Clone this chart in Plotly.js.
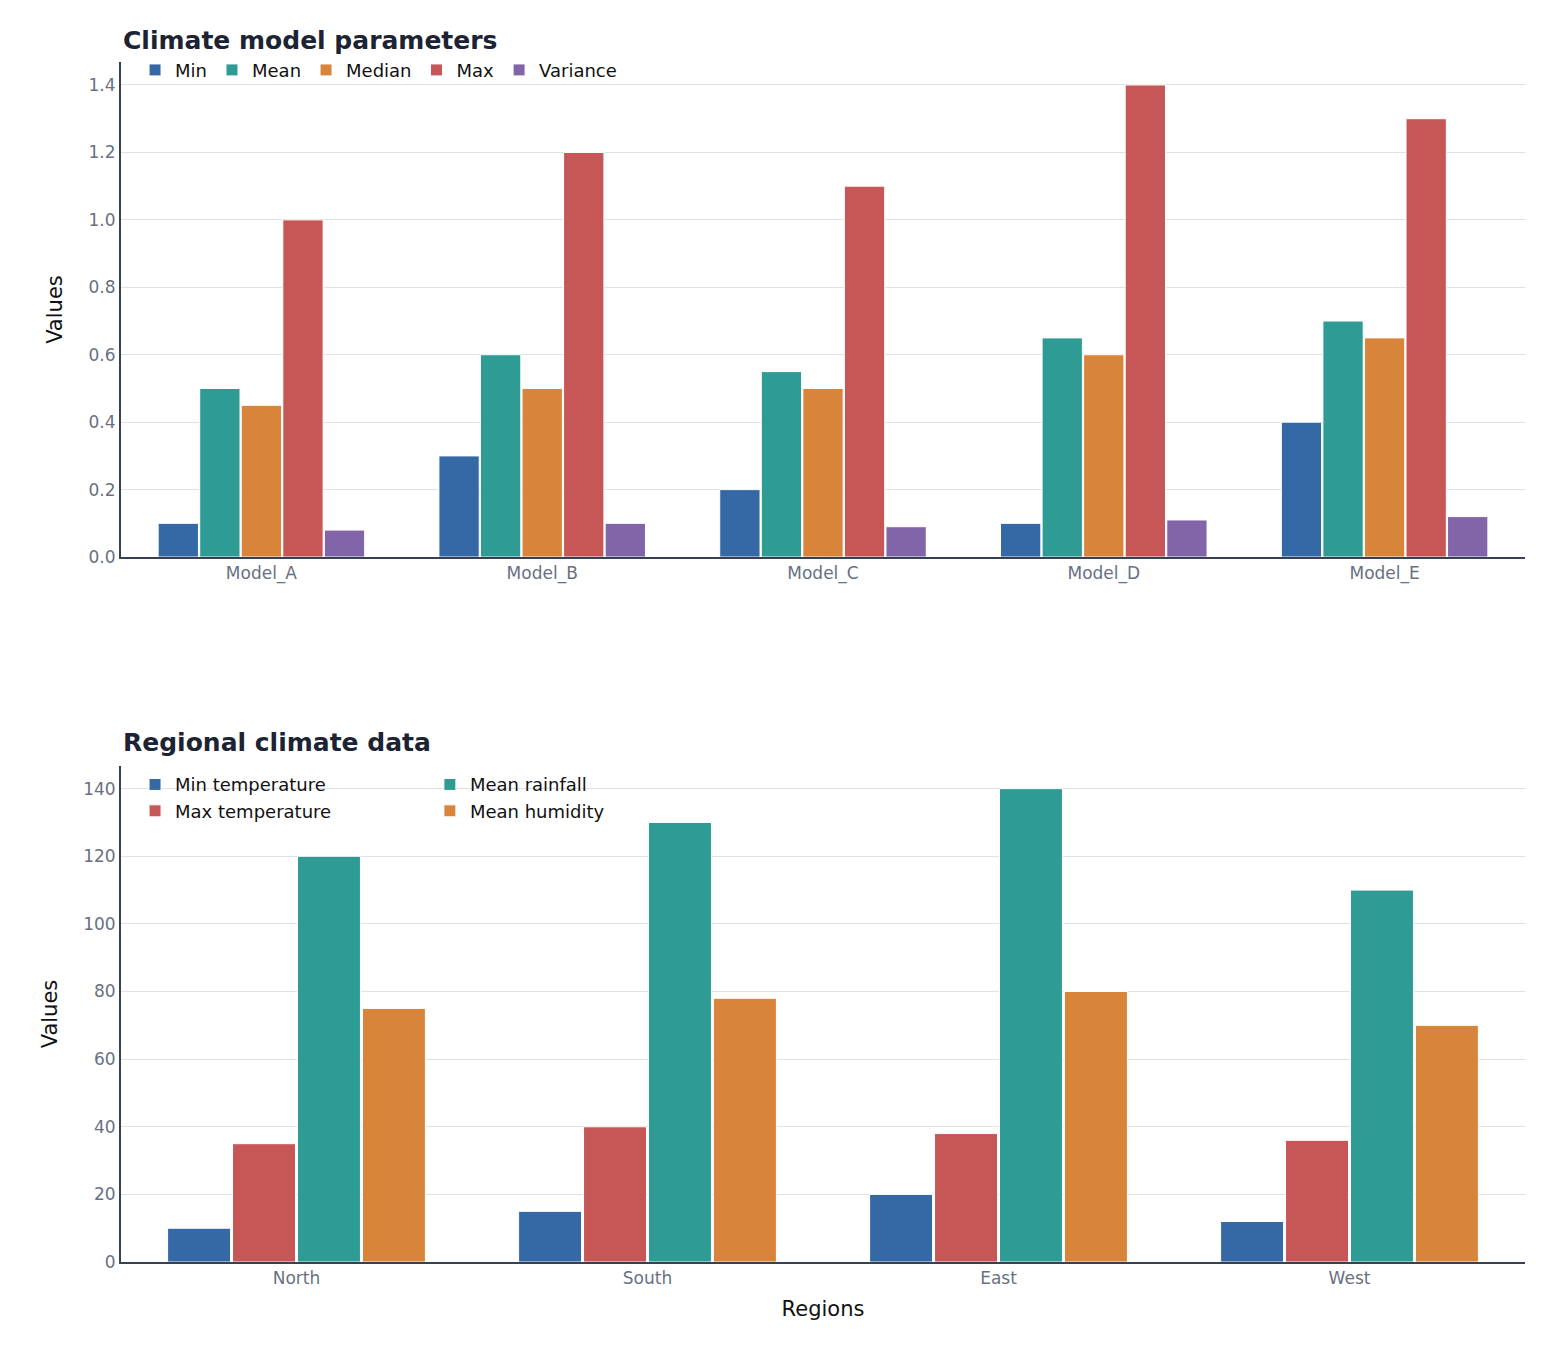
<!DOCTYPE html>
<html>
<head>
<script src="https://cdn.plot.ly/plotly-3.0.1.min.js"></script>
<style>body{margin:0}</style>
</head>
<body>
<div id="chart" style="width:1549px;height:1361px"></div>
<script>
// top chart
const models = ['Model_A', 'Model_B', 'Model_C', 'Model_D', 'Model_E'];
const minVals = [0.1, 0.3, 0.2, 0.1, 0.4];
const meanVals = [0.5, 0.6, 0.55, 0.65, 0.7];
const medianVals = [0.45, 0.5, 0.5, 0.6, 0.65];
const maxVals = [1.0, 1.2, 1.1, 1.4, 1.3];
const varianceVals = [0.08, 0.1, 0.09, 0.11, 0.12];

// bottom chart
const regions = ['North', 'South', 'East', 'West'];
const minTemp = [10, 15, 20, 12];
const maxTemp = [35, 40, 38, 36];
const meanRain = [120, 130, 140, 110];
const meanHumidity = [75, 78, 80, 70];

const BLUE = '#3569a5', TEAL = '#2e9c94', ORANGE = '#d8853b', RED = '#c75656', PURPLE = '#8265a8';

function bar(x, y, name, color, axis, legend) {
    return {
        type: 'bar', x: x, y: y, name: name,
        xaxis: 'x' + axis, yaxis: 'y' + axis, legend: legend,
        marker: {color: color, line: {color: 'white', width: 1}}
    };
}

const data = [
    bar(models, minVals, 'Min', BLUE, '', 'legend'),
    bar(models, meanVals, 'Mean', TEAL, '', 'legend'),
    bar(models, medianVals, 'Median', ORANGE, '', 'legend'),
    bar(models, maxVals, 'Max', RED, '', 'legend'),
    bar(models, varianceVals, 'Variance', PURPLE, '', 'legend'),
    bar(regions, minTemp, 'Min temperature', BLUE, '2', 'legend2'),
    bar(regions, maxTemp, 'Max temperature', RED, '2', 'legend2'),
    bar(regions, meanRain, 'Mean rainfall', TEAL, '2', 'legend3'),
    bar(regions, meanHumidity, 'Mean humidity', ORANGE, '2', 'legend3')
];

const tickFont = {size: 17, color: '#687082'};
function xax(domainY) {
    return {showline: true, linecolor: '#374151', linewidth: 2, tickfont: tickFont, ticks: '', showgrid: false};
}
function yax(range, dom, dtick) {
    return {
        domain: dom, range: range, dtick: dtick, showline: true, linecolor: '#374151', linewidth: 2,
        gridcolor: '#e0e0e6', tickfont: tickFont, zeroline: false, ticks: '',
        title: {text: 'Values', font: {size: 21, color: '#111'}, standoff: 20}
    };
}

const legFont = {size: 18, color: '#111'};
const layout = {
    font: {family: 'DejaVu Sans'},
    paper_bgcolor: 'white', plot_bgcolor: 'white',
    margin: {l: 121, r: 24, t: 0, b: 0},
    barmode: 'group', bargap: 0.26, bargroupgap: 0.03,
    xaxis: Object.assign(xax(), {anchor: 'y'}),
    yaxis: Object.assign(yax([0, 1.468], [0.5907, 0.9544], 0.2), {anchor: 'x', tickformat: '.1f'}),
    xaxis2: Object.assign(xax(), {anchor: 'y2', title: {text: 'Regions', font: {size: 21, color: '#111'}, standoff: 14}}),
    yaxis2: Object.assign(yax([0, 146.7], [0.0727, 0.4372], 20), {anchor: 'x2'}),
    legend: {orientation: 'h', x: 0.01, y: 0.962, yanchor: 'top', xanchor: 'left', font: legFont, bgcolor: 'rgba(0,0,0,0)'},
    legend2: {x: 0.01, y: 0.437, yanchor: 'top', xanchor: 'left', font: legFont, bgcolor: 'rgba(0,0,0,0)', tracegroupgap: 0},
    legend3: {x: 0.22, y: 0.437, yanchor: 'top', xanchor: 'left', font: legFont, bgcolor: 'rgba(0,0,0,0)', tracegroupgap: 0},
    annotations: [
        {text: '<b>Climate model parameters</b>', xref: 'paper', yref: 'paper', x: 0, y: 0.9578, xanchor: 'left', yanchor: 'bottom', showarrow: false, font: {size: 25, color: '#1c2333'}},
        {text: '<b>Regional climate data</b>', xref: 'paper', yref: 'paper', x: 0, y: 0.4422, xanchor: 'left', yanchor: 'bottom', showarrow: false, font: {size: 25, color: '#1c2333'}}
    ]
};

Plotly.newPlot('chart', data, layout, {displayModeBar: false});
</script>
</body>
</html>
